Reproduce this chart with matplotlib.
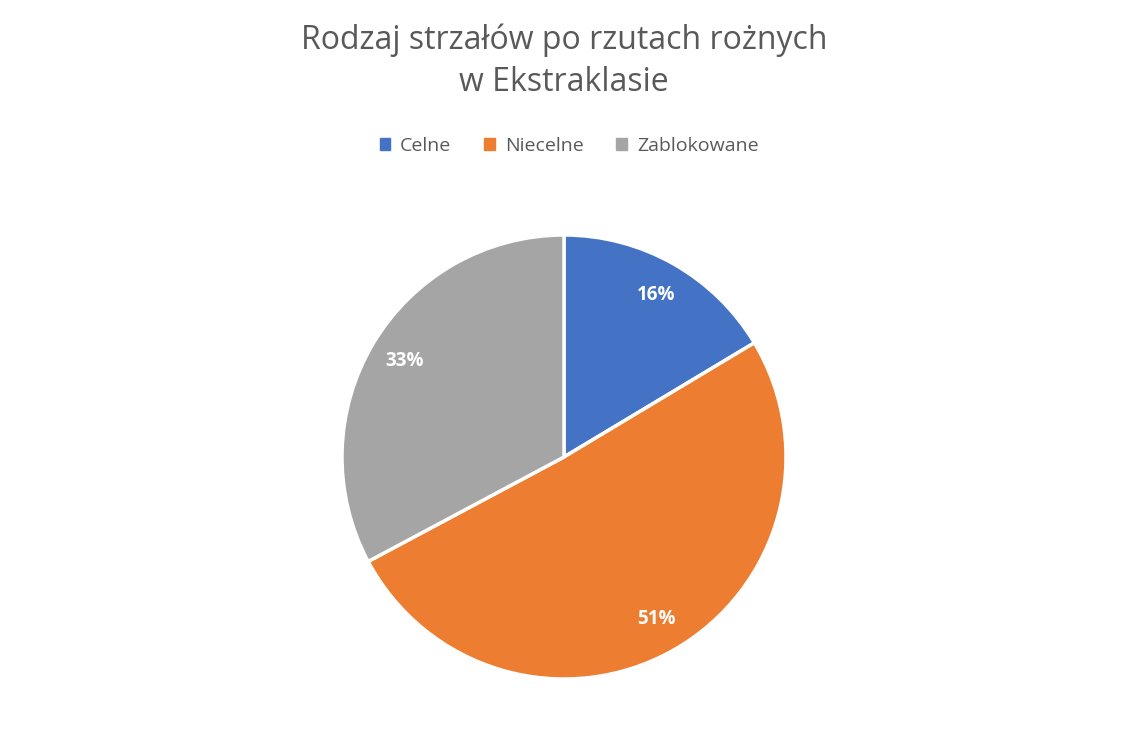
import matplotlib
matplotlib.use("Agg")
import matplotlib.pyplot as plt
from matplotlib.patches import Patch

plt.rcParams['font.family'] = ['Open Sans', 'DejaVu Sans']

categories = ["Celne", "Niecelne", "Zablokowane"]
values = [16.4, 50.8, 32.8]
colors = ["#4472C4", "#ED7D31", "#A5A5A5"]
title = "Rodzaj strzałów po rzutach rożnych\nw Ekstraklasie"

W, H = 1121, 729
fig = plt.figure(figsize=(W / 100, H / 100), dpi=100)
cx, cy, r = 564, 457, 222
ax = fig.add_axes([(cx - r) / W, 1 - (cy + r) / H, 2 * r / W, 2 * r / H])
wedges, texts, autotexts = ax.pie(
    values, colors=colors, startangle=90, counterclock=False,
    autopct=lambda p: f"{p:.0f}%", pctdistance=0.84,
    wedgeprops=dict(edgecolor="white", linewidth=2.5),
    textprops=dict(color="white", fontsize=13.5, fontweight="bold"))
ax.set_aspect("equal")
ax.set_xlim(-1, 1)
ax.set_ylim(-1, 1)

fig.text(564 / W, 1 - 61 / H, title, ha="center", va="center",
         fontsize=23, color="#595959", linespacing=1.35)

handles = [Patch(facecolor=c, edgecolor=c) for c in colors]
fig.legend(handles, categories, loc="center", bbox_to_anchor=(569 / W, 1 - 146 / H),
           ncol=3, frameon=False, fontsize=14, labelcolor="#595959",
           handlelength=0.55, handleheight=0.55, handletextpad=0.5, columnspacing=1.7)

fig.savefig("out.png", dpi=100, facecolor="white")
